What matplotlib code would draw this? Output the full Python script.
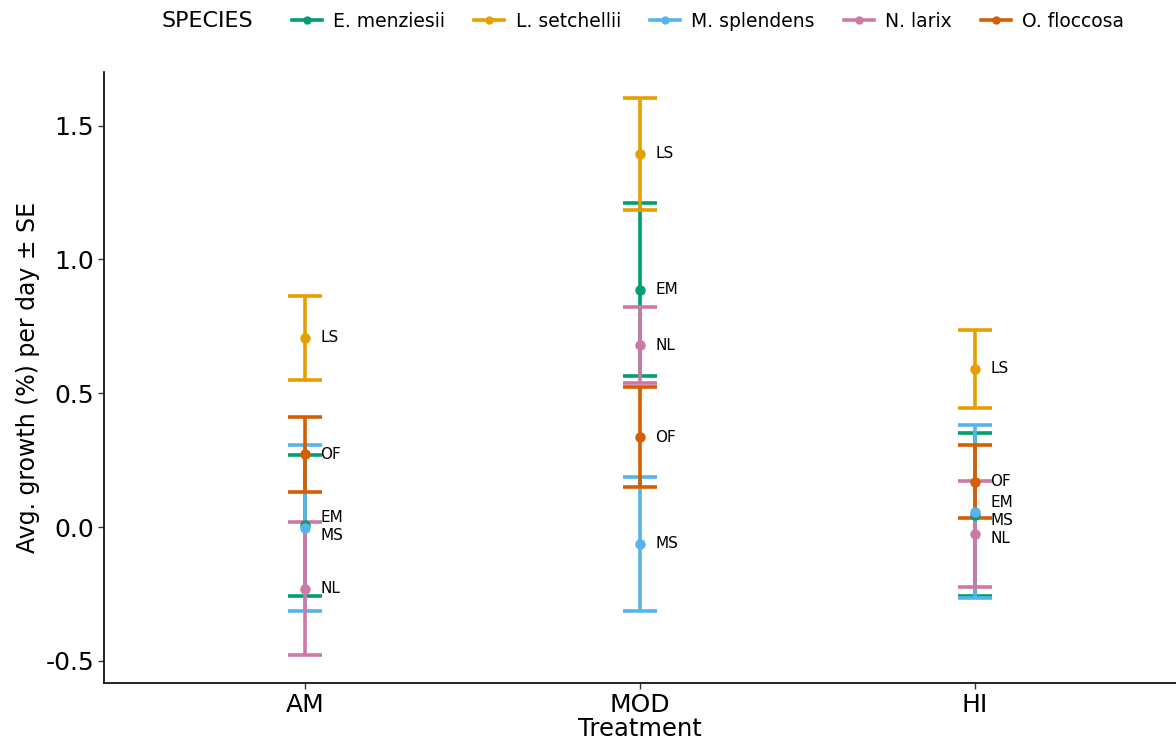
import numpy as np
import matplotlib
matplotlib.use("Agg")
import matplotlib.pyplot as plt
from matplotlib.lines import Line2D

plt.rcParams['font.family'] = ['DejaVu Sans']

# data
treatments = ['AM', 'MOD', 'HI']
species = ['E. menziesii', 'L. setchellii', 'M. splendens', 'N. larix', 'O. floccosa']
abbrev = ['EM', 'LS', 'MS', 'NL', 'OF']
colors = ['#009E73', '#E69F00', '#56B4E9', '#CC79A7', '#D55E00']

# mean growth per species, per treatment (AM, MOD, HI)
em_mean = [0.006, 0.886, 0.046]
ls_mean = [0.707, 1.394, 0.591]
ms_mean = [-0.003, -0.062, 0.057]
nl_mean = [-0.230, 0.680, -0.027]
of_mean = [0.272, 0.336, 0.170]

# standard errors
em_se = [0.264, 0.323, 0.304]
ls_se = [0.158, 0.210, 0.146]
ms_se = [0.310, 0.250, 0.324]
nl_se = [0.250, 0.142, 0.198]
of_se = [0.141, 0.188, 0.135]

means = [em_mean, ls_mean, ms_mean, nl_mean, of_mean]
ses = [em_se, ls_se, ms_se, nl_se, of_se]

fig = plt.figure(figsize=(11.76, 7.51), dpi=100)
ax = fig.add_axes([0.0884, 0.0905, 0.9116, 0.8135])

x = np.arange(1, len(treatments) + 1)
cap = 0.05
for m, s, c in zip(means, ses, colors):
    m = np.array(m)
    s = np.array(s)
    for xi, mi, si in zip(x, m, s):
        ax.plot([xi, xi], [mi - si, mi + si], color=c, lw=2.6, solid_capstyle='butt')
        ax.plot([xi - cap, xi + cap], [mi + si, mi + si], color=c, lw=2.6, solid_capstyle='butt')
        ax.plot([xi - cap, xi + cap], [mi - si, mi - si], color=c, lw=2.6, solid_capstyle='butt')
    ax.plot(x, m, 'o', color=c, ms=6.5, zorder=3)

# simple label repel within each treatment (near-ties keep species order)
gap = 0.068
for j, xi in enumerate(x):
    vals = [(means[i][j], abbrev[i], i) for i in range(len(abbrev))]
    vals.sort(key=lambda v: (-round(v[0] / 0.03), v[2]))
    ys = [v[0] for v in vals]
    for _ in range(200):
        moved = False
        for k in range(len(ys) - 1):
            d = ys[k] - ys[k + 1]
            if d < gap:
                shift = (gap - d) / 2
                ys[k] += shift
                ys[k + 1] -= shift
                moved = True
        if not moved:
            break
    for (val, lab, _i), yl in zip(vals, ys):
        ax.annotate(lab, (xi, yl), xytext=(11, 0), textcoords='offset points',
                    fontsize=11, va='center', ha='left', color='black')

ax.set_xlim(0.4, 3.6)
ax.set_ylim(-0.583, 1.70)
ax.set_xticks(x)
ax.set_xticklabels(treatments)
ax.set_yticks([-0.5, 0.0, 0.5, 1.0, 1.5])
ax.set_yticklabels(['-0.5', '0.0', '0.5', '1.0', '1.5'])
ax.tick_params(axis='both', labelsize=18, length=4, width=1, color='#333333', pad=3)
for side in ['top', 'right']:
    ax.spines[side].set_visible(False)
for side in ['left', 'bottom']:
    ax.spines[side].set_linewidth(1.2)
ax.set_xlabel('Treatment', fontsize=17.5, labelpad=0)
ax.set_ylabel('Avg. growth (%) per day ± SE', fontsize=17, labelpad=4)

handles = [Line2D([0], [0], color=c, lw=2.6, marker='o', ms=5) for c in colors]
fig.text(0.137, 0.972, 'SPECIES', fontsize=16, va='center', ha='left')
fig.legend(handles, species, loc='center left', bbox_to_anchor=(0.242, 0.972),
           ncol=5, frameon=False, fontsize=13.5, handlelength=1.6, handletextpad=0.6,
           columnspacing=1.55, borderaxespad=0)

fig.savefig('out.png', dpi=100)
